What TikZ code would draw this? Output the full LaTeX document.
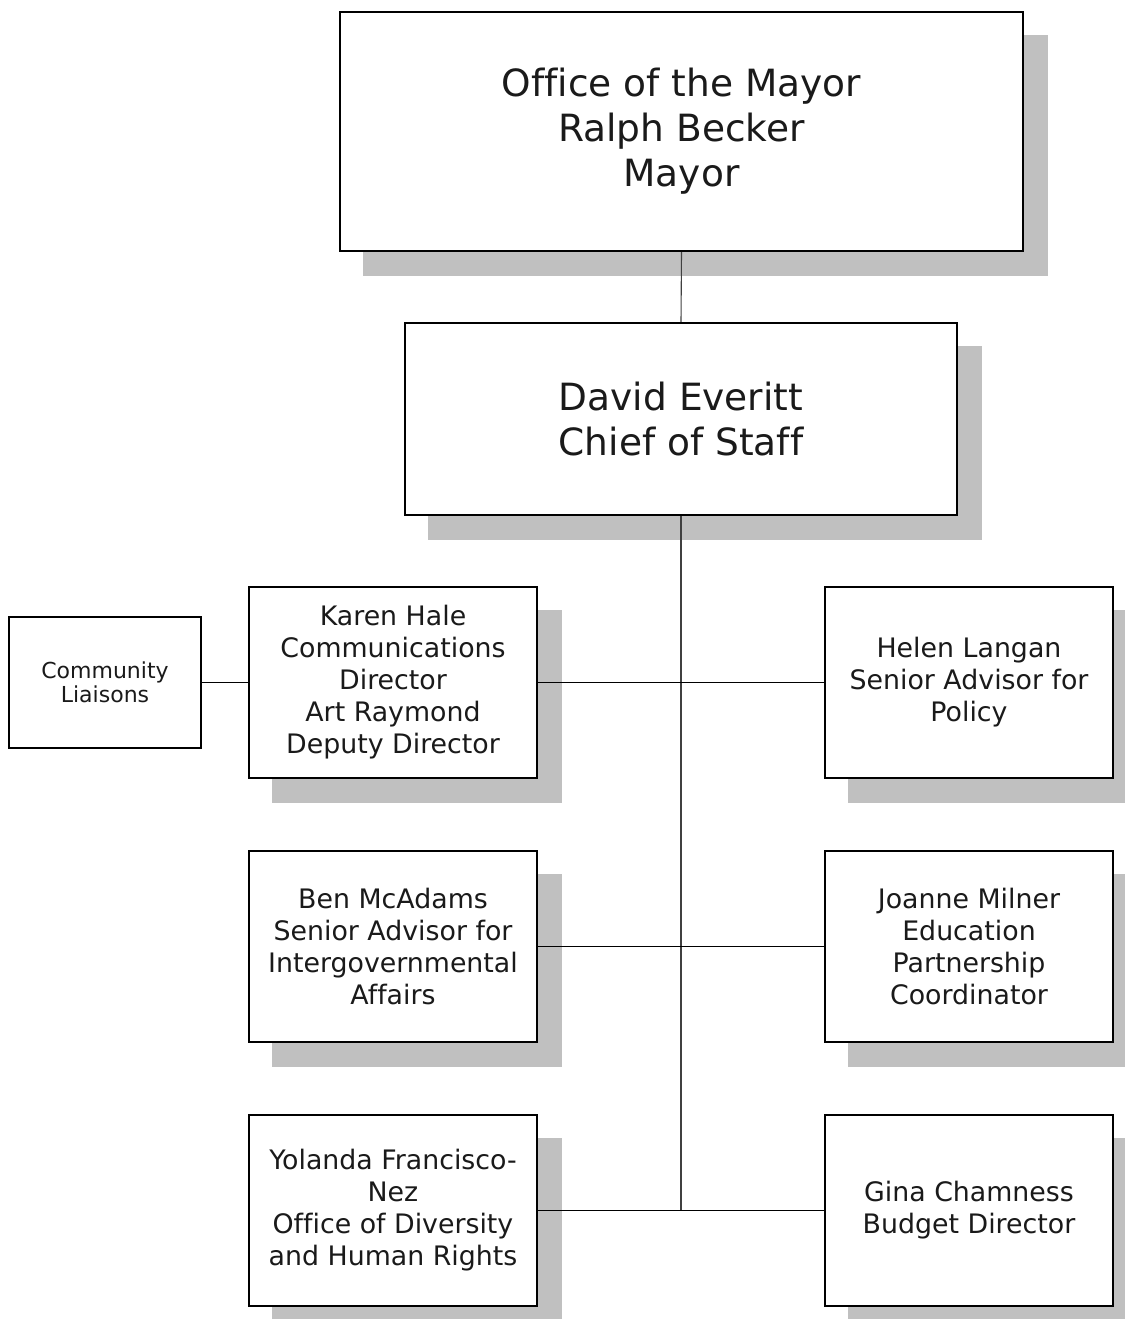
\documentclass[tikz,border=0pt]{standalone}
\usepackage{fontspec}
\setmainfont[Ligatures=NoCommon]{DejaVu Sans}
\usetikzlibrary{backgrounds}
\definecolor{shadowc}{HTML}{C0C0C0}
\definecolor{textc}{HTML}{1A1A1A}
\tikzset{
  box/.style={draw=black, line width=1.8pt, fill=white, inner sep=0pt, align=center, text=textc},
  bigtxt/.style={font=\fontsize{37.5}{45}\selectfont},
  midtxt/.style={font=\fontsize{26.8}{32}\selectfont},
  smalltxt/.style={font=\fontsize{22}{24}\selectfont},
  thinline/.style={draw=black!75, line width=1.1pt},
  thickline/.style={draw=black, line width=1.9pt},
}
\newcommand{\boxshadow}[1]{\fill[shadowc] ([shift={(24,24)}]#1.north west) rectangle ([shift={(24,24)}]#1.south east);}
\begin{document}
\begin{tikzpicture}[x=1pt, y=-1pt]
\useasboundingbox (0,0) rectangle (1124,1319);
\node[box, bigtxt, minimum width=683pt, minimum height=239pt] (mayor) at (681.5,131.5) {Office of the Mayor\\Ralph Becker\\Mayor};
\node[box, bigtxt, minimum width=552pt, minimum height=192pt] (chief) at (681,419) {David Everitt\\Chief of Staff};
\node[box, midtxt, minimum width=288pt, minimum height=191pt] (karen) at (393,682.5) {Karen Hale\\Communications\\Director\\Art Raymond\\Deputy Director};
\node[box, smalltxt, minimum width=192pt, minimum height=131pt] (comm) at (105,682.5) {Community\\Liaisons};
\node[box, midtxt, minimum width=288pt, minimum height=191pt] (helen) at (969,682.5) {Helen Langan\\Senior Advisor for\\Policy};
\node[box, midtxt, minimum width=288pt, minimum height=191pt] (ben) at (393,946.5) {Ben McAdams\\Senior Advisor for\\Intergovernmental\\Affairs};
\node[box, midtxt, minimum width=288pt, minimum height=191pt] (joanne) at (969,946.5) {Joanne Milner\\Education\\Partnership\\Coordinator};
\node[box, midtxt, minimum width=288pt, minimum height=191pt] (yolanda) at (393,1210.5) {Yolanda Francisco-\\Nez\\Office of Diversity\\and Human Rights};
\node[box, midtxt, minimum width=288pt, minimum height=191pt] (gina) at (969,1210.5) {Gina Chamness\\Budget Director};
\coordinate (trunkend) at (chief.south |- yolanda.east);
\begin{scope}[on background layer]
  \boxshadow{mayor}
  \boxshadow{chief}
  \boxshadow{karen}
  \boxshadow{helen}
  \boxshadow{ben}
  \boxshadow{joanne}
  \boxshadow{yolanda}
  \boxshadow{gina}
  \draw[thinline] (mayor.south) -- (chief.north);
  \draw[thinline] (chief.south) -- (trunkend);
  \draw[thickline] (karen.east) -- (helen.west);
  \draw[thickline] (ben.east) -- (joanne.west);
  \draw[thickline] (yolanda.east) -- (gina.west);
  \draw[thickline] (comm.east) -- (karen.west);
\end{scope}
\end{tikzpicture}
\end{document}
